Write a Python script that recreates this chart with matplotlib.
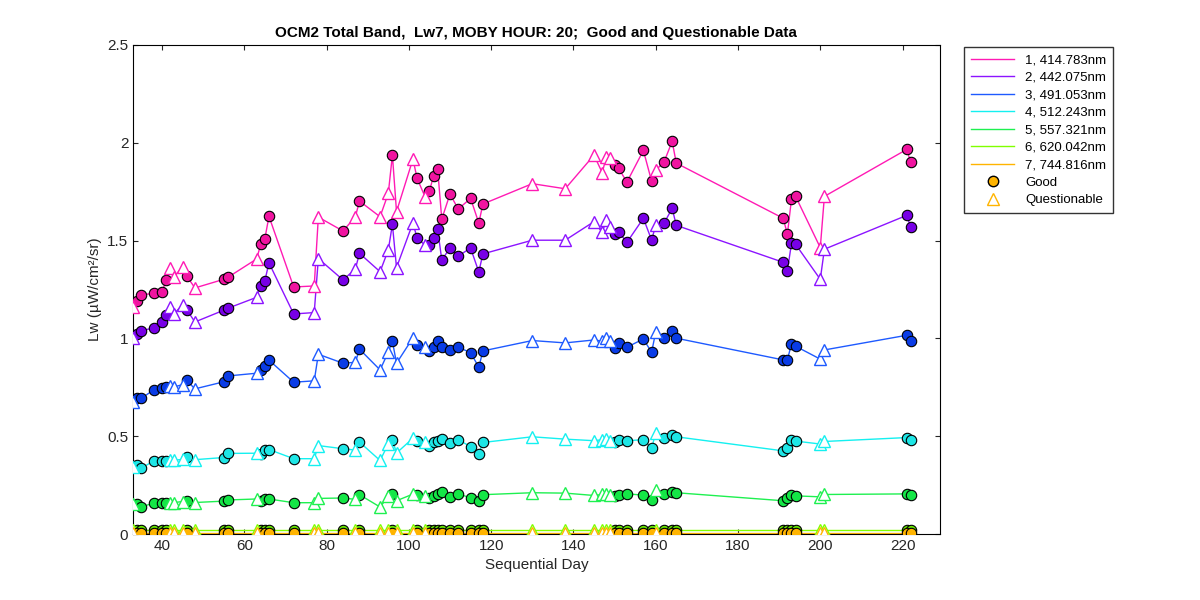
import matplotlib
matplotlib.use("Agg")
import matplotlib.pyplot as plt
from matplotlib.lines import Line2D

plt.rcParams["font.family"] = "Liberation Sans"

# sequential days and quality flag (G = good, Q = questionable)
days = [33, 34, 35, 38, 40, 41, 42, 43, 45, 46, 48, 55, 56, 63, 64, 65, 66, 72, 77, 78,
        84, 87, 88, 93, 95, 96, 97, 101, 102, 104, 105, 106, 107, 108, 110, 112, 115, 117, 118,
        130, 138, 145, 147, 148, 149, 150, 151, 153, 157, 159, 160, 162, 164, 165,
        191, 192, 193, 194, 200, 201, 221, 222]
flags = list("QGGGGGQQQGQGGQGGGGQQ"
             "GQGQQGQQGQGGGGGGGGG"
             "QQQQQQGGGGGQGGG"
             "GGGGQQGG")

band1 = [1.159, 1.19, 1.222, 1.231, 1.236, 1.297, 1.36, 1.316, 1.367, 1.319, 1.258, 1.302, 1.312,
         1.406, 1.481, 1.51, 1.624, 1.263, 1.268, 1.62,
         1.549, 1.622, 1.702, 1.622, 1.741, 1.937, 1.648, 1.917, 1.818, 1.721, 1.753, 1.83, 1.864,
         1.61, 1.738, 1.661, 1.716, 1.59, 1.687,
         1.791, 1.765, 1.937, 1.847, 1.929, 1.92, 1.886, 1.869, 1.799, 1.961, 1.804, 1.86, 1.901,
         2.007, 1.896,
         1.614, 1.532, 1.712, 1.726, 1.464, 1.726, 1.966, 1.9]
band2 = [1.003, 1.021, 1.038, 1.055, 1.083, 1.12, 1.162, 1.127, 1.173, 1.147, 1.084, 1.144, 1.154,
         1.21, 1.268, 1.295, 1.386, 1.125, 1.132, 1.408,
         1.299, 1.355, 1.435, 1.341, 1.452, 1.583, 1.362, 1.591, 1.512, 1.476, 1.476, 1.513, 1.558,
         1.401, 1.462, 1.421, 1.462, 1.34, 1.432,
         1.502, 1.502, 1.597, 1.542, 1.605, 1.571, 1.534, 1.544, 1.491, 1.614, 1.503, 1.578, 1.588,
         1.665, 1.578,
         1.389, 1.345, 1.486, 1.481, 1.302, 1.456, 1.629, 1.569]
band3 = [0.677, 0.694, 0.694, 0.737, 0.744, 0.752, 0.757, 0.752, 0.764, 0.785, 0.742, 0.778, 0.808,
         0.822, 0.837, 0.861, 0.889, 0.776, 0.783, 0.919,
         0.873, 0.878, 0.945, 0.839, 0.93, 0.986, 0.873, 1.003, 0.967, 0.955, 0.938, 0.958, 0.986,
         0.955, 0.941, 0.955, 0.927, 0.853, 0.936,
         0.989, 0.977, 0.992, 0.986, 1.001, 0.989, 0.953, 0.977, 0.955, 0.997, 0.929, 1.033, 1.001,
         1.037, 1.001,
         0.89, 0.89, 0.972, 0.96, 0.894, 0.941, 1.016, 0.986]
band4 = [0.342, 0.354, 0.337, 0.374, 0.374, 0.374, 0.378, 0.378, 0.381, 0.393, 0.38, 0.391, 0.412,
         0.413, 0.41, 0.429, 0.432, 0.385, 0.385, 0.452,
         0.436, 0.429, 0.47, 0.376, 0.46, 0.482, 0.414, 0.49, 0.477, 0.471, 0.451, 0.468, 0.478,
         0.487, 0.465, 0.482, 0.447, 0.41, 0.468,
         0.497, 0.485, 0.477, 0.482, 0.485, 0.477, 0.468, 0.482, 0.477, 0.482, 0.439, 0.516, 0.493,
         0.507, 0.497,
         0.425, 0.439, 0.48, 0.475, 0.46, 0.473, 0.493, 0.482]
band5 = [0.153, 0.153, 0.139, 0.158, 0.16, 0.16, 0.161, 0.161, 0.166, 0.169, 0.161, 0.168, 0.174,
         0.179, 0.169, 0.179, 0.179, 0.16, 0.16, 0.182,
         0.184, 0.177, 0.201, 0.138, 0.192, 0.206, 0.17, 0.204, 0.201, 0.196, 0.184, 0.196, 0.204,
         0.213, 0.187, 0.206, 0.184, 0.167, 0.201,
         0.211, 0.209, 0.197, 0.202, 0.205, 0.199, 0.192, 0.2, 0.205, 0.199, 0.175, 0.223, 0.205,
         0.214, 0.211,
         0.17, 0.185, 0.2, 0.195, 0.19, 0.202, 0.205, 0.199]
band6 = [0.018] * len(days)
band7 = [0.005] * len(days)

labels = ["1, 414.783nm", "2, 442.075nm", "3, 491.053nm", "4, 512.243nm",
          "5, 557.321nm", "6, 620.042nm", "7, 744.816nm"]
colors = ["#ff1ab4", "#8c14ff", "#1e5aff", "#14f0f0", "#1ef050", "#80ff00", "#ffb400"]
fills = ["#f014a0", "#7800e6", "#0a3ce6", "#1ee6e6", "#14e646", "#64e600", "#ffb400"]
bands = [band1, band2, band3, band4, band5, band6, band7]

fig = plt.figure(figsize=(12, 6), dpi=100)
ax = fig.add_axes([0.111, 0.11, 0.672, 0.815])

handles = []
for vals, c, fc, lab in zip(bands, colors, fills, labels):
    ax.plot(days, vals, color=c, lw=1, zorder=2)
    gx = [d for d, f in zip(days, flags) if f == "G"]
    gy = [v for v, f in zip(vals, flags) if f == "G"]
    qx = [d for d, f in zip(days, flags) if f == "Q"]
    qy = [v for v, f in zip(vals, flags) if f == "Q"]
    ax.plot(gx, gy, "o", ms=7.5, mfc=fc, mec="black", mew=0.8, zorder=3)
    ax.plot(qx, qy, "^", ms=8.5, mfc="white", mec=c, mew=1, zorder=3)
    handles.append(Line2D([], [], color=c, lw=1, label=lab))
handles.append(Line2D([], [], ls="none", marker="o", ms=7.5, mfc=fills[-1], mec="black", label="Good"))
handles.append(Line2D([], [], ls="none", marker="^", ms=8.5, mfc="white", mec=colors[-1],
                      label="Questionable"))

ax.set_xlim(33, 229)
ax.set_ylim(0, 2.5)
ax.set_xticks(range(40, 221, 20))
ax.set_yticks([0, 0.5, 1, 1.5, 2, 2.5])
ax.set_yticklabels(["0", "0.5", "1", "1.5", "2", "2.5"])
ax.tick_params(direction="in", top=True, right=True, labelsize=11, colors="#262626")
ax.set_xlabel("Sequential Day", fontsize=11, color="#262626")
ax.set_ylabel("Lw (µW/cm²/sr)", fontsize=11, color="#262626")
ax.set_title("OCM2 Total Band,  Lw7, MOBY HOUR: 20;  Good and Questionable Data",
             fontsize=11, fontweight="bold")

fig.legend(handles=handles, loc="upper left", bbox_to_anchor=(0.798, 0.932),
           fontsize=9.5, frameon=True, fancybox=False, edgecolor="black",
           handlelength=3.3, borderpad=0.5, labelspacing=0.4)

fig.savefig("out.png")
